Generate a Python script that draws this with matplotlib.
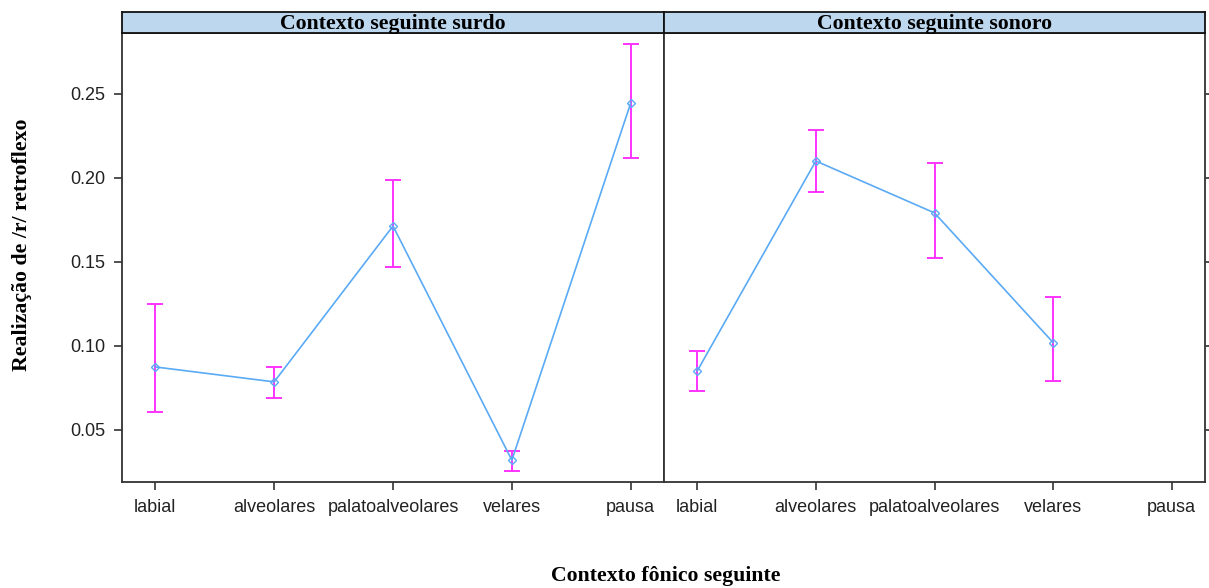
import matplotlib
matplotlib.use("Agg")
import matplotlib.pyplot as plt
import numpy as np

# effect estimates of the following phonic context, per voicing panel
categorias = ["labial", "alveolares", "palatoalveolares", "velares", "pausa"]
paineis = ["Contexto seguinte surdo", "Contexto seguinte sonoro"]

surdo_fit = [0.0875, 0.0786, 0.1714, 0.0320, 0.2446]
surdo_low = [0.0607, 0.0690, 0.1470, 0.0256, 0.2120]
surdo_up = [0.1250, 0.0875, 0.1988, 0.0375, 0.2798]

sonoro_fit = [0.0851, 0.2101, 0.1792, 0.1020, np.nan]
sonoro_low = [0.0732, 0.1917, 0.1524, 0.0792, np.nan]
sonoro_up = [0.0970, 0.2286, 0.2089, 0.1292, np.nan]

yticks = [0.05, 0.10, 0.15, 0.20, 0.25]

W, H = 1209, 588
fig = plt.figure(figsize=(W / 100, H / 100), dpi=100)

serif = ["Liberation Serif", "DejaVu Serif"]
sans = ["Liberation Sans", "DejaVu Sans"]
frame = "#333333"
linha = "#5aaaf5"
erro = "#ff33ff"
strip_bg = "#bdd7ee"
tick_fs = 13
titulo_fs = 15.7

dados = [(surdo_fit, surdo_low, surdo_up), (sonoro_fit, sonoro_low, sonoro_up)]
x_px = [(122, 664), (664, 1205)]
top, bottom, strip_top = 33, 482, 12

x = np.arange(1, len(categorias) + 1)
for i, (nome, (fit, low, up), (x0, x1)) in enumerate(zip(paineis, dados, x_px)):
    ax = fig.add_axes([x0 / W, 1 - bottom / H, (x1 - x0) / W, (bottom - top) / H])
    fit = np.array(fit)
    low = np.array(low)
    up = np.array(up)
    ok = ~np.isnan(fit)
    ax.plot(x[ok], fit[ok], color=linha, lw=1.2, marker="D", ms=4,
            mfc="none", mec=linha, mew=1.0, zorder=3)
    ax.errorbar(x[ok], fit[ok], yerr=[fit[ok] - low[ok], up[ok] - fit[ok]],
                fmt="none", ecolor=erro, elinewidth=1.4, capsize=6, capthick=1.4,
                zorder=2)
    ax.set_xlim(0.72, 5.28)
    ax.set_ylim(0.019, 0.2863)
    ax.set_xticks(x)
    ax.set_xticklabels(categorias, fontfamily=sans, fontsize=tick_fs, color="#222222")
    ax.set_yticks(yticks)
    if i == 0:
        ax.set_yticklabels([f"{v:.2f}" for v in yticks], fontfamily=sans,
                           fontsize=tick_fs, color="#222222")
        ax.tick_params(axis="y", left=True, right=False)
    else:
        ax.tick_params(axis="y", left=False, right=True, labelleft=False)
    ax.tick_params(axis="both", direction="out", length=6, width=1.2,
                   color=frame, pad=6)
    for s in ax.spines.values():
        s.set_color(frame)
        s.set_linewidth(1.3)

    # strip with the panel title
    sax = fig.add_axes([x0 / W, 1 - top / H, (x1 - x0) / W, (top - strip_top) / H])
    sax.set_facecolor(strip_bg)
    sax.set_xticks([])
    sax.set_yticks([])
    for s in sax.spines.values():
        s.set_color("#111111")
        s.set_linewidth(1.3)
    sax.text(0.5, 0.45, nome, ha="center", va="center", fontfamily=serif,
             fontsize=titulo_fs, fontweight="bold", transform=sax.transAxes)

fig.text(22 / W, 1 - 245 / H, "Realização de /r/ retroflexo", rotation=90,
         ha="center", va="center", fontfamily=serif, fontsize=titulo_fs,
         fontweight="bold")
fig.text(666 / W, 1 - 576 / H, "Contexto fônico seguinte", ha="center",
         va="center", fontfamily=serif, fontsize=titulo_fs, fontweight="bold")

fig.savefig("out.png", dpi=100)
